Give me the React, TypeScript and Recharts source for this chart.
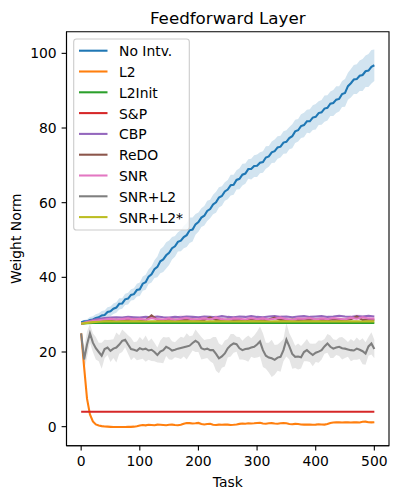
import React from 'react';
import { ComposedChart, Line, Area, XAxis, YAxis, ReferenceArea } from 'recharts';

const FONT = '"DejaVu Sans", sans-serif';

// x positions (task index), fine and coarse sampling
const tasks = Array.from({ length: 101 }, (_, i) => i * 5);
const tasksCoarse = Array.from({ length: 51 }, (_, i) => i * 10);

const xTicks = [0, 100, 200, 300, 400, 500];
const yTicks = [0, 20, 40, 60, 80, 100];

const seriesNames = ['No Intv.', 'L2', 'L2Init', 'S&P', 'CBP', 'ReDO', 'SNR', 'SNR+L2', 'SNR+L2*'];
const seriesColors = ['#1f77b4', '#ff7f0e', '#2ca02c', '#d62728', '#9467bd', '#8c564b', '#e377c2', '#7f7f7f', '#bcbd22'];

const noIntv = [
  28.0, 28.2, 28.2, 28.6, 28.7, 29.1, 29.3, 29.8, 29.9, 30.7,
  30.9, 31.6, 31.9, 32.9, 33.0, 34.1, 34.3, 35.3, 35.5, 36.6,
  36.8, 38.3, 38.7, 40.2, 40.8, 42.2, 42.8, 44.3, 44.8, 45.9,
  46.6, 47.8, 48.3, 49.5, 49.8, 50.8, 51.3, 52.6, 52.8, 54.2,
  54.8, 56.0, 56.5, 57.8, 58.3, 59.5, 60.1, 61.4, 61.8, 63.0,
  63.5, 64.7, 64.8, 66.1, 66.4, 67.5, 67.8, 69.0, 69.0, 69.8,
  69.9, 70.7, 70.9, 72.1, 72.4, 73.5, 73.8, 74.8, 75.0, 76.1,
  76.3, 77.3, 77.8, 79.1, 79.4, 80.5, 80.8, 81.8, 81.8, 82.8,
  83.0, 84.0, 84.2, 85.2, 85.4, 86.5, 86.7, 87.6, 87.8, 89.1,
  89.4, 91.2, 92.0, 93.0, 93.1, 94.0, 94.2, 95.2, 95.4, 96.4,
  96.8,
];
const noIntvSpread = [
  0.2, 0.4, 0.6, 0.8, 0.9, 1.0, 1.1, 1.2, 1.2, 1.3,
  1.3, 1.4, 1.4, 1.5, 1.4, 1.5, 1.6, 1.5, 1.6, 1.7,
  1.8, 1.9, 2.0, 2.0, 2.2, 2.4, 2.8, 3.2, 3.4, 3.5,
  3.3, 3.0, 2.8, 2.6, 2.8, 3.0, 3.2, 3.4, 3.2, 2.8,
  2.6, 2.5, 2.6, 2.7, 2.5, 2.6, 2.8, 2.7, 2.6, 2.5,
  2.6, 2.8, 2.7, 2.6, 2.8, 2.9, 2.7, 2.6, 2.8, 2.9,
  3.0, 2.8, 2.9, 3.0, 2.8, 2.9, 3.1, 3.0, 2.9, 3.0,
  3.1, 3.0, 3.2, 3.1, 3.0, 3.2, 3.3, 3.1, 3.2, 3.3,
  3.4, 3.2, 3.3, 3.5, 3.4, 3.3, 3.5, 3.6, 3.4, 3.5,
  3.7, 3.6, 3.8, 3.9, 4.0, 4.1, 4.3, 4.2, 4.4, 4.5,
  4.2,
];
const l2 = [
  25.0, 16.0, 7.5, 3.3, 1.4, 0.6, 0.3, 0.15, 0.05, 0.0,
  -0.05, -0.1, -0.1, -0.1, -0.1, -0.1, -0.05, -0.05, 0.0, 0.1,
  0.3, 0.45, 0.35, 0.5, 0.45, 0.4, 0.55, 0.5, 0.45, 0.4,
  0.5, 0.55, 0.45, 0.4, 0.5, 0.8, 1.0, 0.95, 0.85, 0.9,
  1.0, 0.7, 0.6, 0.7, 0.75, 0.5, 0.45, 0.55, 0.5, 0.6,
  0.55, 0.45, 0.5, 0.6, 0.75, 0.85, 0.8, 0.9, 0.85, 0.9,
  1.0, 1.05, 0.85, 0.8, 0.9, 0.95, 0.85, 0.8, 0.9, 0.95,
  0.9, 0.7, 0.65, 0.75, 0.7, 0.6, 0.55, 0.6, 0.55, 0.5,
  0.55, 0.65, 0.6, 0.55, 0.7, 1.0, 1.1, 1.2, 1.15, 1.1,
  1.2, 1.15, 1.1, 1.2, 1.15, 1.1, 1.3, 1.35, 1.2, 1.15,
  1.2,
];
const snrL2 = [
  25.0, 18.0, 22.0, 25.0, 22.5, 21.0, 20.0, 19.0, 20.8, 21.2,
  20.3, 20.9, 21.2, 22.0, 23.0, 23.3, 22.0, 20.8, 20.6, 20.3,
  21.0, 20.7, 20.9, 20.4, 20.6, 20.0, 19.2, 20.1, 20.5, 21.4,
  21.0, 20.4, 20.6, 20.9, 21.1, 21.3, 21.5, 21.7, 22.4, 23.0,
  22.5, 21.0, 20.7, 20.9, 20.5, 20.5, 19.5, 18.3, 18.8, 19.6,
  21.0, 21.8, 22.3, 22.1, 21.0, 20.5, 20.8, 20.9, 21.2, 21.4,
  22.0, 22.8, 20.5, 19.0, 18.5, 18.3, 17.9, 18.5, 18.7, 20.5,
  23.3, 21.5, 19.5, 18.7, 18.8, 18.6, 20.0, 20.5, 19.8, 19.2,
  19.8, 20.1, 20.5, 21.5, 22.3, 21.4, 20.9, 21.2, 21.4, 21.0,
  20.9, 20.7, 20.5, 20.4, 20.9, 20.6, 20.2, 19.6, 21.5, 22.3,
  20.8,
];
const snrL2Spread = [
  0.5, 3.0, 3.5, 2.5, 2.5, 3.0, 2.5, 3.5, 2.5, 2.0,
  3.0, 2.5, 4.0, 2.5, 3.0, 2.0, 2.5, 3.0, 2.0, 2.5,
  3.0, 2.5, 3.5, 2.5, 3.0, 2.5, 2.0, 3.0, 3.5, 2.5,
  3.0, 2.5, 2.0, 2.5, 3.0, 2.5, 3.5, 2.5, 2.0, 3.0,
  2.5, 3.0, 2.5, 2.5, 3.0, 3.5, 4.5, 4.0, 3.0, 3.5,
  2.5, 3.0, 2.5, 2.0, 3.0, 2.5, 3.0, 3.5, 2.5, 3.0,
  3.5, 4.0, 4.5, 3.5, 4.0, 5.0, 4.0, 3.5, 4.0, 3.0,
  4.5, 3.5, 4.0, 3.0, 3.5, 3.0, 2.5, 3.0, 2.5, 3.0,
  2.5, 3.0, 2.5, 2.0, 2.5, 3.0, 2.5, 2.0, 2.5, 3.0,
  2.5, 2.0, 3.0, 2.5, 3.0, 2.5, 3.5, 3.0, 2.5, 3.0,
  2.5,
];

const l2Init = [
  27.6, 27.7, 27.75, 27.8, 27.8, 27.8, 27.85, 27.8, 27.8, 27.8,
  27.8, 27.85, 27.8, 27.8, 27.8, 27.85, 27.8, 27.8, 27.8, 27.85,
  27.8, 27.8, 27.85, 27.8, 27.8, 27.8, 27.85, 27.8, 27.8, 27.8,
  27.85, 27.8, 27.8, 27.8, 27.85, 27.8, 27.8, 27.8, 27.85, 27.8,
  27.8, 27.8, 27.85, 27.8, 27.8, 27.8, 27.85, 27.8, 27.8, 27.8,
  27.8,
];
const sp = [
  4.0, 4.0, 4.0, 4.0, 4.0, 4.0, 4.0, 4.0, 4.0, 4.0,
  4.0, 4.0, 4.0, 4.0, 4.0, 4.0, 4.0, 4.0, 4.0, 4.0,
  4.0, 4.0, 4.0, 4.0, 4.0, 4.0, 4.0, 4.0, 4.0, 4.0,
  4.0, 4.0, 4.0, 4.0, 4.0, 4.0, 4.0, 4.0, 4.0, 4.0,
  4.0, 4.0, 4.0, 4.0, 4.0, 4.0, 4.0, 4.0, 4.0, 4.0,
  4.0,
];
const cbp = [
  27.6, 28.1, 28.6, 28.9, 29.1, 29.2, 29.3, 29.2, 29.4, 29.3,
  29.2, 29.4, 29.3, 29.5, 29.3, 29.2, 29.4, 29.3, 29.5, 29.4,
  29.3, 29.5, 29.4, 29.3, 29.6, 29.4, 29.3, 29.5, 29.4, 29.6,
  29.4, 29.3, 29.5, 29.6, 29.4, 29.5, 29.3, 29.5, 29.6, 29.4,
  29.5, 29.6, 29.4, 29.5, 29.7, 29.5, 29.4, 29.6, 29.5, 29.7,
  29.5,
];
const redo = [
  27.6, 27.9, 28.2, 28.4, 28.5, 28.5, 28.6, 28.5, 28.6, 28.7,
  28.6, 28.5, 29.8, 28.6, 28.5, 28.7, 28.6, 28.5, 28.6, 28.7,
  28.5, 28.6, 29.3, 28.6, 28.5, 28.7, 28.6, 28.6, 28.5, 28.7,
  28.6, 28.5, 28.7, 29.2, 28.6, 28.5, 28.7, 28.6, 28.5, 28.6,
  28.7, 28.6, 28.5, 28.7, 28.6, 28.6, 28.8, 29.5, 28.6, 28.7,
  28.6,
];
const snr = [
  27.6, 28.0, 28.3, 28.5, 28.7, 28.9, 28.6, 28.8, 29.0, 28.7,
  28.9, 28.6, 29.1, 28.8, 28.7, 29.0, 28.6, 28.9, 29.1, 28.7,
  28.8, 29.0, 28.7, 29.2, 28.8, 28.6, 29.0, 28.9, 28.7, 29.1,
  28.8, 29.0, 28.7, 28.9, 29.2, 28.8, 28.6, 29.0, 28.9, 29.1,
  28.7, 29.0, 28.8, 29.1, 28.9, 28.7, 29.2, 28.9, 29.3, 29.0,
  28.9,
];
const snrSpread = [
  0.1, 0.3, 0.4, 0.5, 0.6, 0.5, 0.7, 0.5, 0.6, 0.5,
  0.6, 0.7, 0.5, 0.6, 0.8, 0.5, 0.6, 1.1, 0.6, 0.5,
  0.7, 0.6, 0.5, 0.8, 0.6, 0.5, 0.7, 0.6, 0.9, 0.5,
  0.6, 0.7, 0.5, 0.6, 0.8, 0.6, 0.5, 0.7, 0.6, 0.5,
  0.7, 0.6, 0.8, 0.5, 0.6, 0.7, 0.6, 1.2, 0.6, 0.7,
  0.6,
];
const snrL2Star = [
  27.6, 27.8, 28.0, 28.1, 28.2, 28.2, 28.15, 28.2, 28.2, 28.25,
  28.2, 28.15, 28.2, 28.25, 28.2, 28.2, 28.15, 28.2, 28.25, 28.2,
  28.2, 28.15, 28.2, 28.2, 28.25, 28.2, 28.15, 28.2, 28.2, 28.25,
  28.2, 28.2, 28.15, 28.2, 28.25, 28.2, 28.2, 28.15, 28.2, 28.2,
  28.25, 28.2, 28.2, 28.15, 28.2, 28.25, 28.2, 28.2, 28.15, 28.2,
  28.2,
];

const fineData = tasks.map((t, i) => ({
  task: t,
  noIntv: noIntv[i],
  noIntvBand: [noIntv[i] - noIntvSpread[i], noIntv[i] + noIntvSpread[i]],
  l2: l2[i],
  snrL2: snrL2[i],
  snrL2Band: [snrL2[i] - snrL2Spread[i], snrL2[i] + snrL2Spread[i]],
}));

const coarseData = tasksCoarse.map((t, i) => ({
  task: t,
  l2Init: l2Init[i],
  sp: sp[i],
  cbp: cbp[i],
  redo: redo[i],
  snr: snr[i],
  snrBand: [snr[i] - snrSpread[i], snr[i] + snrSpread[i]],
  snrL2Star: snrL2Star[i],
}));

const W = 399;
const H = 500;
const PL = 66.5;
const PR = 389;
const PT = 31.7;
const PB = 445.7;
const FS = 13.9;
const LW = 2.08;

export default function App() {
  const tickStyle = { fill: '#000', fontSize: FS, fontFamily: FONT };
  const lineProps = { type: 'linear' as const, dot: false, activeDot: false, strokeWidth: LW, isAnimationActive: false };
  return (
    <div style={{ position: 'absolute', left: 0, top: 0, width: W, height: H, background: '#fff' }}>
      <ComposedChart
        width={W}
        height={H}
        data={fineData}
        margin={{ top: PT, right: W - PR, bottom: H - PB - 40, left: PL - 60 }}
      >
        <XAxis
          dataKey="task"
          type="number"
          domain={[-25, 525]}
          ticks={xTicks}
          allowDataOverflow
          height={40}
          tick={tickStyle}
          tickSize={4.9}
          tickMargin={5.5}
          tickLine={{ stroke: '#000', strokeWidth: 1.1 }}
          axisLine={{ stroke: '#000', strokeWidth: 1.1 }}
        />
        <YAxis
          type="number"
          domain={[-5.1, 105.8]}
          ticks={yTicks}
          allowDataOverflow
          width={60}
          tick={tickStyle}
          tickSize={4.9}
          tickMargin={4.9}
          tickLine={{ stroke: '#000', strokeWidth: 1.1 }}
          axisLine={{ stroke: '#000', strokeWidth: 1.1 }}
        />
        <Area dataKey="noIntvBand" stroke="none" fill={seriesColors[0]} fillOpacity={0.2} isAnimationActive={false} activeDot={false} />
        <Area data={coarseData} dataKey="snrBand" stroke="none" fill={seriesColors[6]} fillOpacity={0.2} isAnimationActive={false} activeDot={false} />
        <Area dataKey="snrL2Band" stroke="none" fill={seriesColors[7]} fillOpacity={0.2} isAnimationActive={false} activeDot={false} />
        <Line dataKey="noIntv" stroke={seriesColors[0]} {...lineProps} />
        <Line dataKey="l2" stroke={seriesColors[1]} {...lineProps} />
        <Line data={coarseData} dataKey="l2Init" stroke={seriesColors[2]} {...lineProps} />
        <Line data={coarseData} dataKey="sp" stroke={seriesColors[3]} {...lineProps} />
        <Line data={coarseData} dataKey="cbp" stroke={seriesColors[4]} {...lineProps} />
        <Line data={coarseData} dataKey="redo" stroke={seriesColors[5]} {...lineProps} />
        <Line data={coarseData} dataKey="snr" stroke={seriesColors[6]} {...lineProps} />
        <Line dataKey="snrL2" stroke={seriesColors[7]} {...lineProps} />
        <Line data={coarseData} dataKey="snrL2Star" stroke={seriesColors[8]} {...lineProps} />
        <ReferenceArea x1={-25} x2={525} y1={-5.1} y2={105.8} fill="none" stroke="#000" strokeWidth={1.1} ifOverflow="visible" />
      </ComposedChart>
      <svg
        width={W}
        height={H}
        style={{ position: 'absolute', left: 0, top: 0, pointerEvents: 'none' }}
        fontFamily={FONT}
      >
        <text x={(PL + PR) / 2} y={23.5} textAnchor="middle" fontSize={16.7} fill="#000">
          Feedforward Layer
        </text>
        <text x={(PL + PR) / 2} y={487} textAnchor="middle" fontSize={FS} fill="#000">
          Task
        </text>
        <text
          x={21}
          y={(PT + PB) / 2}
          textAnchor="middle"
          fontSize={FS}
          fill="#000"
          transform={`rotate(-90 21 ${(PT + PB) / 2})`}
        >
          Weight Norm
        </text>
        <rect x={73.7} y={39} width={115.6} height={191} rx={2.8} fill="#fff" fillOpacity={0.8} stroke="#cccccc" strokeWidth={1.1} />
        {seriesNames.map((name, i) => {
          const cy = 50.7 + 20.8 * i;
          return (
            <g key={name}>
              <line x1={79} x2={107.5} y1={cy} y2={cy} stroke={seriesColors[i]} strokeWidth={LW} />
              <text x={119} y={cy + 5.5} fontSize={FS} fill="#000">
                {name}
              </text>
            </g>
          );
        })}
      </svg>
    </div>
  );
}
